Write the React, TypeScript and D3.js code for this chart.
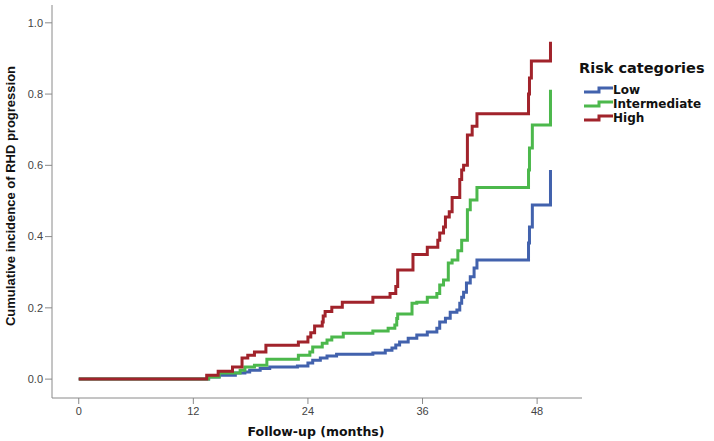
import React from "react";
import * as d3 from "d3";

// follow-up time (months) at each step, and cumulative incidence after the step
const lowTimes = [0, 13.6, 14.7, 16.4, 17.4, 17.9, 19.0, 20.0, 22.9, 24.0, 24.5, 25.3, 26.0, 27.0, 30.8, 32.1, 32.8, 33.2, 33.6, 34.5, 35.4, 36.5, 37.5, 37.8, 38.4, 38.9, 39.6, 39.9, 40.1, 40.3, 40.6, 41.0, 41.4, 41.7, 47.1, 47.2, 47.5, 49.4];
const lowRisk = [0, 0.006, 0.011, 0.017, 0.02, 0.025, 0.03, 0.034, 0.037, 0.045, 0.053, 0.059, 0.065, 0.07, 0.073, 0.081, 0.087, 0.096, 0.104, 0.115, 0.124, 0.132, 0.143, 0.16, 0.171, 0.188, 0.194, 0.213, 0.23, 0.244, 0.27, 0.287, 0.312, 0.334, 0.382, 0.427, 0.489, 0.587];

const interTimes = [0, 13.6, 14.7, 16.9, 17.4, 18.4, 19.7, 23.0, 24.2, 24.5, 25.5, 26.0, 26.5, 27.7, 30.8, 32.4, 33.1, 33.3, 33.4, 34.9, 35.4, 36.5, 37.5, 37.8, 38.2, 38.7, 39.1, 39.7, 40.1, 40.7, 41.0, 41.7, 47.1, 47.2, 47.5, 49.4];
const interRisk = [0, 0.006, 0.017, 0.025, 0.034, 0.039, 0.056, 0.067, 0.076, 0.09, 0.101, 0.11, 0.118, 0.129, 0.135, 0.143, 0.152, 0.17, 0.183, 0.213, 0.216, 0.23, 0.24, 0.264, 0.278, 0.326, 0.334, 0.36, 0.39, 0.475, 0.503, 0.538, 0.587, 0.649, 0.713, 0.812];

const highTimes = [0, 13.4, 14.6, 16.1, 17.1, 17.7, 18.4, 19.6, 23.0, 24.0, 24.3, 24.7, 25.5, 25.6, 25.8, 26.5, 27.6, 30.8, 32.6, 33.2, 33.4, 35.0, 36.5, 37.6, 37.8, 38.2, 38.4, 38.8, 39.1, 39.9, 40.1, 40.3, 40.7, 41.2, 41.7, 47.1, 47.2, 47.4, 49.4];
const highRisk = [0, 0.011, 0.022, 0.034, 0.059, 0.067, 0.076, 0.095, 0.104, 0.118, 0.13, 0.149, 0.16, 0.177, 0.19, 0.202, 0.216, 0.23, 0.24, 0.26, 0.306, 0.35, 0.37, 0.39, 0.41, 0.427, 0.455, 0.47, 0.51, 0.56, 0.587, 0.6, 0.685, 0.71, 0.745, 0.8, 0.845, 0.893, 0.947];

const categories = ["Low", "Intermediate", "High"];
const colors = ["#4262ad", "#4cb84c", "#a1232b"];
const xTicks = [0, 12, 24, 36, 48];
const yTicks = [0, 0.2, 0.4, 0.6, 0.8, 1.0];

const series = [
  { name: categories[0], color: colors[0], times: lowTimes, risk: lowRisk },
  { name: categories[1], color: colors[1], times: interTimes, risk: interRisk },
  { name: categories[2], color: colors[2], times: highTimes, risk: highRisk },
];

export default function App() {
  const width = 714;
  const height = 441;

  const x = d3.scaleLinear().domain([-2.8, 52.7]).range([52, 582]);
  const y = d3.scaleLinear().domain([-0.053, 1.05]).range([398, 5]);

  const step = d3
    .line<[number, number]>()
    .x((d) => x(d[0]))
    .y((d) => y(d[1]))
    .curve(d3.curveStepAfter);

  // small step glyph for the legend
  const icon = d3
    .line<[number, number]>()
    .x((d) => d[0])
    .y((d) => d[1])
    .curve(d3.curveStepAfter);

  const axisColor = "#8a8a8a";
  const [x0, x1] = x.range();
  const [y0, y1] = y.range();

  return (
    <svg
      width={width}
      height={height}
      style={{ position: "absolute", left: 0, top: 0, background: "#fff" }}
    >
      {/* axes */}
      <line x1={x0} x2={x1} y1={y0} y2={y0} stroke={axisColor} strokeWidth={1} />
      <line x1={x0} x2={x0} y1={y0} y2={y1} stroke={axisColor} strokeWidth={1} />

      {xTicks.map((t) => (
        <g key={t} transform={`translate(${x(t)},${y0})`}>
          <line y1={0} y2={6} stroke={axisColor} />
          <text
            y={17}
            textAnchor="middle"
            fontFamily="Liberation Sans, Arial, sans-serif"
            fontSize={11}
            fill="#444"
          >
            {t}
          </text>
        </g>
      ))}

      {yTicks.map((t) => (
        <g key={t} transform={`translate(${x0},${y(t)})`}>
          <line x1={-7} x2={0} stroke={axisColor} />
          <text
            x={-9}
            dy="0.35em"
            textAnchor="end"
            fontFamily="Liberation Sans, Arial, sans-serif"
            fontSize={11}
            fill="#444"
          >
            {d3.format(".1f")(t)}
          </text>
        </g>
      ))}

      <text
        x={316}
        y={436}
        textAnchor="middle"
        fontFamily="DejaVu Sans, Verdana, sans-serif"
        fontWeight="bold"
        fontSize={12.5}
        fill="#111"
      >
        Follow-up (months)
      </text>
      <text
        transform={`translate(15,${196}) rotate(-90)`}
        textAnchor="middle"
        fontFamily="Liberation Sans, Arial, sans-serif"
        fontWeight="bold"
        fontSize={13}
        fill="#111"
      >
        Cumulative incidence of RHD progression
      </text>

      {/* curves */}
      {series.map((s) => (
        <path
          key={s.name}
          d={step(s.times.map((t, i) => [t, s.risk[i]] as [number, number])) || ""}
          fill="none"
          stroke={s.color}
          strokeWidth={3}
          strokeLinejoin="miter"
        />
      ))}

      {/* legend */}
      <text
        x={579}
        y={73}
        fontFamily="DejaVu Sans, Verdana, sans-serif"
        fontWeight="bold"
        fontSize={14.5}
        fill="#111"
      >
        Risk categories
      </text>
      {series.map((s, i) => (
        <g key={s.name} transform={`translate(584,${94 + i * 14})`}>
          <path
            d={icon([[0, -2], [15, -6], [29, -6]]) || ""}
            fill="none"
            stroke={s.color}
            strokeWidth={3}
          />
          <text
            x={29}
            y={0}
            fontFamily="DejaVu Sans, Verdana, sans-serif"
            fontWeight="bold"
            fontSize={12}
            fill="#111"
          >
            {s.name}
          </text>
        </g>
      ))}
    </svg>
  );
}
